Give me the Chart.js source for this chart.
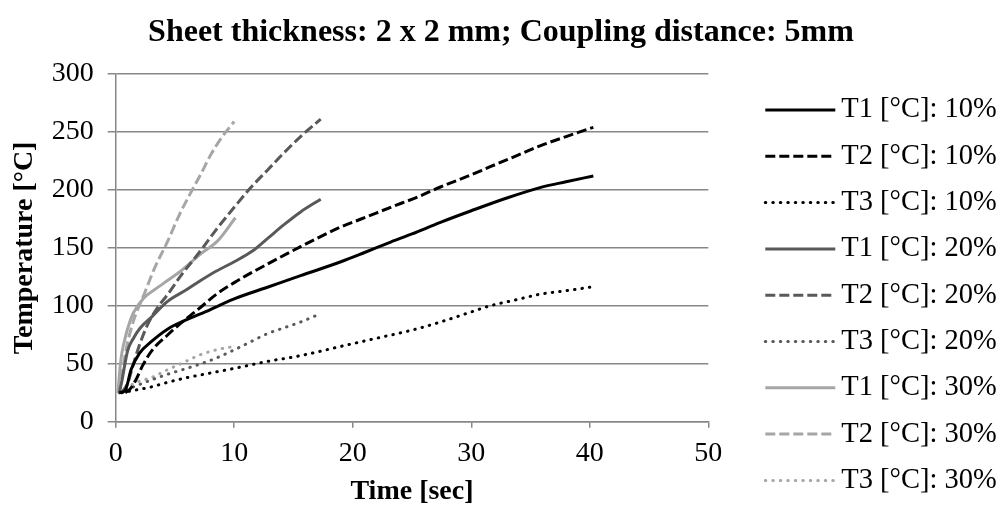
<!DOCTYPE html>
<html>
<head>
<meta charset="utf-8">
<script src="https://cdn.jsdelivr.net/npm/chart.js@4/dist/chart.umd.min.js"></script>
<style>
html, body { margin: 0; padding: 0; background: #fff; overflow: hidden; }
</style>
</head>
<body>
<canvas id="mycanvas" width="1002" height="509"></canvas>
<script>
// time [sec] and temperature [°C], one pair of arrays per curve
var t1_10_t = [0.3, 0.8, 1.3, 2, 3, 4.4, 6, 7.6, 10, 12.8, 15.6, 19, 21, 23.2, 25, 27.4, 30, 33, 35.8, 38, 40.3];
var t1_10_v = [25, 27, 45, 59, 69, 80, 88, 95, 106, 116, 126, 138, 146, 155, 162, 172, 182, 193, 202, 207, 212];

var t2_10_t = [0.8, 1.2, 1.7, 2.3, 3.1, 4.4, 5.5, 7.2, 8.5, 10, 12.8, 15.6, 19, 21, 23.2, 25.5, 27.4, 29.5, 31.6, 33.7, 35.8, 38, 40.3];
var t2_10_v = [25, 28, 36, 49, 62, 75, 85, 99, 110, 120, 136, 151, 168, 176, 185, 194, 202.5, 211, 220, 229, 238, 246, 254];

var t3_10_t = [0.5, 1.5, 3, 4.4, 6, 8, 10, 12.8, 15.6, 19, 22, 25, 27.4, 29.5, 31.6, 33.7, 35.8, 38, 40];
var t3_10_v = [25, 27, 30, 34, 38, 42, 46, 52, 57, 65, 72, 79, 86, 93, 100, 105, 110, 113, 116];

var t1_20_t = [0.3, 0.5, 1, 1.5, 2, 3, 4.4, 6, 7.2, 8.5, 10, 11.5, 12.8, 14.2, 15.6, 17.3];
var t1_20_v = [25, 34, 61, 72, 80, 90, 104, 114, 122, 130, 138, 147, 158, 170, 181, 192];

var t2_20_t = [0.5, 1, 1.5, 2, 2.7, 3.5, 4.4, 5.5, 7.2, 8.5, 10, 11.4, 12.8, 14.2, 15.6, 17.3];
var t2_20_v = [25, 33, 50, 66, 84, 98, 110, 126, 148, 166, 185, 202, 217, 232, 246, 261];

var t3_20_t = [0.3, 1.5, 3, 4.4, 6, 7.2, 8.5, 10, 11.4, 12.8, 14.2, 15.6, 17];
var t3_20_v = [25, 30, 36, 41, 46, 50, 55, 62, 69, 76, 81, 86, 92];

var t1_30_t = [0.2, 0.35, 0.5, 0.7, 1, 1.5, 2.4, 3.3, 4.4, 5.5, 7.2, 8.6, 10.1];
var t1_30_v = [25, 45, 58, 68, 80, 94, 107, 114, 122, 130, 145, 156, 176];

var t2_30_t = [0.3, 0.5, 0.7, 1, 1.5, 2.4, 3.3, 4.4, 5.3, 6.3, 7.2, 8, 9, 10];
var t2_30_v = [25, 38, 52, 68, 87, 110, 133, 156, 177, 197, 214, 230, 246, 259];

var t3_30_t = [0.3, 1, 2, 3, 4.4, 5.5, 7.2, 8.5, 10];
var t3_30_v = [25, 30, 35, 38, 45, 50, 58, 62, 65];

var seriesNames = ['T1 [°C]: 10%', 'T2 [°C]: 10%', 'T3 [°C]: 10%',
                   'T1 [°C]: 20%', 'T2 [°C]: 20%', 'T3 [°C]: 20%',
                   'T1 [°C]: 30%', 'T2 [°C]: 30%', 'T3 [°C]: 30%'];

var xTicks = [0, 10, 20, 30, 40, 50];
var yTicks = [0, 50, 100, 150, 200, 250, 300];

var serif = '"Liberation Serif", "Times New Roman", serif';
var gridColor = '#878787';

function pts(t, v) {
    var out = [];
    for (var i = 0; i < t.length; i++) {
        out.push({x: t[i], y: v[i]});
    }
    return out;
}

// line look: colour per power level, dash per sensor
var colors = ['#000000', '#595959', '#a6a6a6'];
var dashes = [[], [10, 4], [0.5, 7]];
var caps = ['butt', 'butt', 'round'];

var raw = [
    [t1_10_t, t1_10_v], [t2_10_t, t2_10_v], [t3_10_t, t3_10_v],
    [t1_20_t, t1_20_v], [t2_20_t, t2_20_v], [t3_20_t, t3_20_v],
    [t1_30_t, t1_30_v], [t2_30_t, t2_30_v], [t3_30_t, t3_30_v]
];

var datasets = [];
for (var i = 0; i < raw.length; i++) {
    datasets.push({
        label: seriesNames[i],
        data: pts(raw[i][0], raw[i][1]),
        borderColor: colors[Math.floor(i / 3)],
        backgroundColor: colors[Math.floor(i / 3)],
        borderWidth: 3,
        borderDash: dashes[i % 3],
        borderCapStyle: caps[i % 3],
        pointRadius: 0,
        fill: false,
        cubicInterpolationMode: 'monotone'
    });
}

// legend column to the right of the plot, drawn with each dataset's own line style
var sideLegend = {
    id: 'sideLegend',
    afterDraw: function(chart) {
        var c = chart.ctx;
        var area = chart.chartArea;
        var x0 = area.right + 57;
        var lineLen = 70;
        var y0 = 110;
        var step = 46.3;
        c.save();
        c.font = '28.5px ' + serif;
        c.textBaseline = 'middle';
        c.fillStyle = '#000';
        chart.data.datasets.forEach(function(ds, k) {
            var y = y0 + k * step;
            c.beginPath();
            c.strokeStyle = ds.borderColor;
            c.lineWidth = ds.borderWidth;
            c.lineCap = ds.borderCapStyle;
            c.setLineDash(ds.borderDash);
            c.moveTo(x0, y);
            c.lineTo(x0 + lineLen, y);
            c.stroke();
            c.fillText(ds.label, x0 + lineLen + 6, y);
        });
        c.restore();
    }
};

var ctx = document.getElementById('mycanvas');

var chart = new Chart(ctx, {
    type: 'line',
    data: {datasets: datasets},
    plugins: [sideLegend],
    options: {
        responsive: false,
        animation: false,
        devicePixelRatio: 1,
        layout: {padding: {top: 0, right: 0, bottom: -4, left: 0}},
        plugins: {
            tooltip: {enabled: false},
            legend: {display: false},
            title: {
                display: true,
                text: 'Sheet thickness: 2 x 2 mm; Coupling distance: 5mm',
                color: '#000',
                font: {family: serif, size: 32, weight: 'bold'},
                padding: {top: 14, bottom: 21.6}
            }
        },
        scales: {
            x: {
                type: 'linear',
                min: 0,
                max: 50,
                afterBuildTicks: function(s) { s.ticks = xTicks.map(function(v) { return {value: v}; }); },
                afterFit: function(s) { s.height = 91.3; },
                ticks: {color: '#000', font: {family: serif, size: 28}, padding: 9.5},
                grid: {drawOnChartArea: false, color: gridColor, lineWidth: 1.5, tickLength: 6},
                border: {color: gridColor, width: 1.5},
                title: {
                    display: true,
                    text: 'Time [sec]',
                    color: '#000',
                    font: {family: serif, size: 28, weight: 'bold'},
                    padding: {top: 0, bottom: 4}
                }
            },
            y: {
                min: 0,
                max: 300,
                afterBuildTicks: function(s) { s.ticks = yTicks.map(function(v) { return {value: v}; }); },
                afterFit: function(s) { s.width = 115.7; },
                ticks: {color: '#000', font: {family: serif, size: 28}, padding: 14},
                grid: {color: gridColor, lineWidth: 1.5, tickLength: 8},
                border: {color: gridColor, width: 1.5},
                title: {
                    display: true,
                    text: 'Temperature [°C]',
                    color: '#000',
                    font: {family: serif, size: 28, weight: 'bold'},
                    padding: {top: 8, bottom: 0}
                }
            },
            // empty box on the right that keeps room for the legend column
            legendRoom: {
                position: 'right',
                display: true,
                grid: {display: false},
                ticks: {display: false},
                border: {display: false},
                afterFit: function(s) { s.width = 293.7; }
            }
        }
    }
});
</script>
</body>
</html>
